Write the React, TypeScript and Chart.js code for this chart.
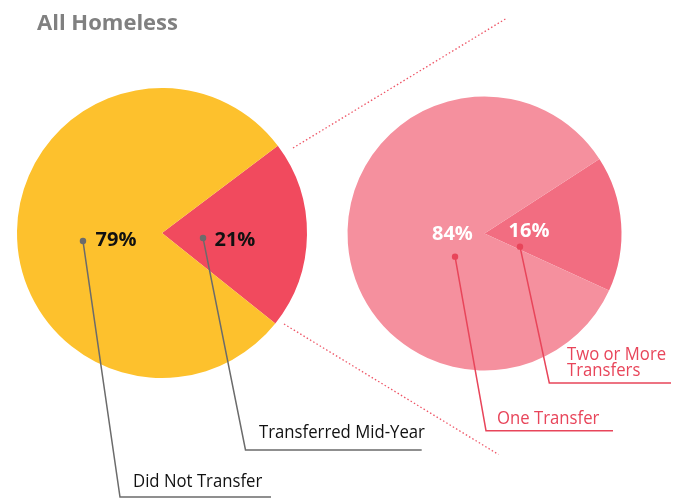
import { useEffect, useRef } from "react";
import { Chart, registerables } from "chart.js";
Chart.register(...registerables);

const titleText = "All Homeless";
const leftCategories = ["Transferred Mid-Year", "Did Not Transfer"];
const leftValues = [21, 79];
const rightCategories = ["Two or More Transfers", "One Transfer"];
const rightValues = [16, 84];
const leftColors = ["#F14A5E", "#FDC12D"];
const rightColors = ["#F26D81", "#F5909E"];

type Ann = {
  label: [number, number]; // offset from pie centre in radius units
  dot: [number, number];
  corner: [number, number];
  endX: number;
  lines: string[];
  textX: number;
  baselines: number[];
};

const leftAnns: Ann[] = [
  { label: [0.503, 0.05], dot: [0.283, 0.034], corner: [245.5, 450], endX: 421.7, lines: ["Transferred Mid-Year"], textX: 259, baselines: [438] },
  { label: [-0.317, 0.05], dot: [-0.545, 0.055], corner: [120, 497], endX: 271, lines: ["Did Not Transfer"], textX: 133, baselines: [487] },
];
const rightAnns: Ann[] = [
  { label: [0.325, -0.015], dot: [0.259, 0.096], corner: [549.3, 383], endX: 671, lines: ["Two or More", "Transfers"], textX: 567, baselines: [360, 375.7] },
  { label: [-0.234, 0.003], dot: [-0.215, 0.169], corner: [486, 430.7], endX: 613, lines: ["One Transfer"], textX: 497, baselines: [424] },
];

const FONT_TXT = '"Open Sans", sans-serif';

function drawAnnotations(chart: any, anns: Ann[], values: number[], opts: { labelColor: string; lineColor: string; textColor: string }) {
  const ctx = chart.ctx as CanvasRenderingContext2D;
  const meta = chart.getDatasetMeta(0);
  const total = values.reduce((a, b) => a + b, 0);
  ctx.save();
  anns.forEach((a, i) => {
    const arc: any = meta.data[i];
    const cx = arc.x, cy = arc.y, r = arc.outerRadius;
    const dx = cx + a.dot[0] * r, dy = cy + a.dot[1] * r;
    // leader line
    ctx.strokeStyle = opts.lineColor;
    ctx.lineWidth = 1.5;
    ctx.setLineDash([]);
    ctx.beginPath();
    ctx.moveTo(dx, dy);
    ctx.lineTo(a.corner[0], a.corner[1]);
    ctx.lineTo(a.endX, a.corner[1]);
    ctx.stroke();
    ctx.fillStyle = opts.lineColor;
    ctx.beginPath();
    ctx.arc(dx, dy, 3.2, 0, Math.PI * 2);
    ctx.fill();
    // percent label
    ctx.fillStyle = opts.labelColor;
    ctx.font = 'bold 20px "Open Sans", sans-serif';
    ctx.textAlign = "center";
    ctx.textBaseline = "middle";
    ctx.fillText(Math.round((values[i] / total) * 100) + "%", cx + a.label[0] * r, cy + a.label[1] * r);
    // category text
    ctx.fillStyle = opts.textColor;
    ctx.font = "19px " + FONT_TXT;
    ctx.textAlign = "left";
    ctx.textBaseline = "alphabetic";
    a.lines.forEach((ln, j) => {
      ctx.save();
      ctx.translate(a.textX, a.baselines[j]);
      ctx.scale(0.88, 1);
      ctx.fillText(ln, 0, 0);
      ctx.restore();
    });
  });
  ctx.restore();
}

export default function App() {
  const leftRef = useRef<HTMLCanvasElement>(null);
  const rightRef = useRef<HTMLCanvasElement>(null);

  useEffect(() => {
    const leftPlugin = {
      id: "leftAnn",
      afterDraw(chart: any) {
        const ctx = chart.ctx as CanvasRenderingContext2D;
        ctx.save();
        ctx.fillStyle = "#808080";
        ctx.font = 'bold 22px "Open Sans", sans-serif';
        ctx.textAlign = "left";
        ctx.textBaseline = "alphabetic";
        ctx.fillText(titleText, 37, 30);
        ctx.restore();
        drawAnnotations(chart, leftAnns, leftValues, { labelColor: "#111111", lineColor: "#6b6b6b", textColor: "#111111" });
      },
    };
    const rightPlugin = {
      id: "rightAnn",
      afterDraw(chart: any) {
        const ctx = chart.ctx as CanvasRenderingContext2D;
        ctx.save();
        ctx.strokeStyle = "#EE5566";
        ctx.lineWidth = 1.3;
        ctx.setLineDash([1.5, 2.3]);
        ctx.beginPath();
        ctx.moveTo(293, 148);
        ctx.lineTo(507, 18);
        ctx.moveTo(284, 324);
        ctx.lineTo(498.5, 454.5);
        ctx.stroke();
        ctx.restore();
        drawAnnotations(chart, rightAnns, rightValues, { labelColor: "#FFFFFF", lineColor: "#E8455A", textColor: "#E8455A" });
      },
    };
    const common = {
      responsive: false,
      animation: false as const,
      plugins: { legend: { display: false }, tooltip: { enabled: false }, title: { display: false } },
      events: [] as any[],
    };
    const left = new Chart(leftRef.current!, {
      type: "pie",
      data: { labels: leftCategories, datasets: [{ data: leftValues, backgroundColor: leftColors, borderWidth: 0 }] },
      options: { ...common, rotation: 53, layout: { padding: { left: 17, right: 371, top: 88, bottom: 122 } } } as any,
      plugins: [leftPlugin],
    });
    const right = new Chart(rightRef.current!, {
      type: "pie",
      data: { labels: rightCategories, datasets: [{ data: rightValues, backgroundColor: rightColors, borderWidth: 0 }] },
      options: { ...common, rotation: 57, layout: { padding: { left: 347.5, right: 56.5, top: 96.5, bottom: 129.5 } } } as any,
      plugins: [rightPlugin],
    });
    return () => {
      left.destroy();
      right.destroy();
    };
  }, []);

  const cs: any = { position: "absolute", left: 0, top: 0, width: 678, height: 500 };
  return (
    <div style={{ position: "absolute", left: 0, top: 0, width: 678, height: 500, background: "#fff" }}>
      <canvas ref={leftRef} width={678} height={500} style={cs} />
      <canvas ref={rightRef} width={678} height={500} style={cs} />
    </div>
  );
}
